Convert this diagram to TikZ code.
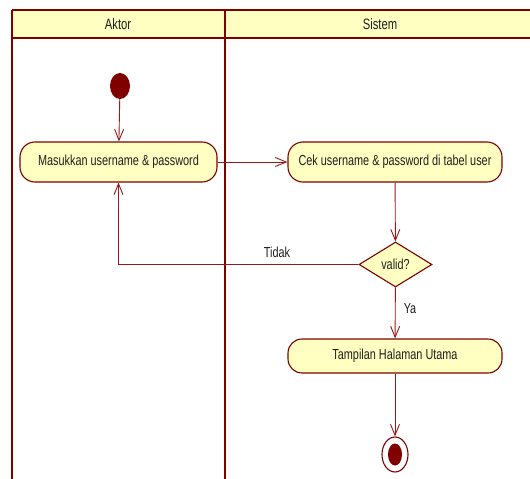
\documentclass[tikz,border=0pt]{standalone}
\usepackage{fontspec}
\setmainfont{Liberation Sans}[FakeStretch=0.75]
\usetikzlibrary{arrows.meta,shapes.geometric}

\definecolor{umlred}{RGB}{128,0,0}
\definecolor{linkred}{RGB}{150,25,25}
\definecolor{umlfill}{RGB}{255,255,194}
\definecolor{umltext}{RGB}{30,30,30}

\tikzset{
  lane/.style={draw=umlred, line width=2.8pt},
  action/.style={draw=umlred, fill=umlfill, line width=1.1pt, rounded corners=15pt,
    inner sep=0pt, text=umltext, font=\fontsize{14.5}{16}\selectfont},
  decision/.style={diamond, draw=umlred, fill=umlfill, line width=1.1pt, inner sep=0pt,
    minimum width=73pt, minimum height=45pt, aspect=1.62, text=umltext,
    font=\fontsize{14.5}{16}\selectfont},
  flow/.style={draw=linkred, line width=0.9pt, -{Straight Barb[length=11pt,width=9pt]}},
  guard/.style={text=umltext, font=\fontsize{14.5}{16}\selectfont, inner sep=0pt},
  lanetitle/.style={text=umltext, font=\fontsize{15}{17}\selectfont, inner sep=0pt}
}

\begin{document}
\begin{tikzpicture}[x=1pt, y=-1pt]
\useasboundingbox (0,0) rectangle (530,479);
\clip (0,0) rectangle (530,479);

% swimlane frame
\fill[umlfill] (12,10) rectangle (540,38);
\draw[lane] (12,10) -- (540,10);
\draw[lane] (12,38) -- (540,38);
\draw[lane] (12,10) -- (12,490);
\draw[lane] (225,10) -- (225,490);
\node[lanetitle] (lane1) at (118,24) {Aktor};
\node[lanetitle] (lane2) at (380,24) {Sistem};

% states
\node[ellipse, fill=umlred, minimum width=20pt, minimum height=26pt, inner sep=0pt] (start) at (120,86) {};
\node[action, minimum width=197pt, minimum height=40pt] (login) at (118.5,162) {Masukkan username \& password};
\node[action, minimum width=214pt, minimum height=40pt] (check) at (395,162) {Cek username \& password di tabel user};
\node[decision] (valid) at (395.5,264.5) {valid?};
\node[action, minimum width=214pt, minimum height=34pt, rounded corners=14pt] (home) at (395,356) {Tampilan Halaman Utama};
\node[ellipse, draw=umlred, fill=white, line width=1.1pt, minimum width=26pt, minimum height=35pt, inner sep=0pt] (stop) at (395,454.5) {};
\node[ellipse, fill=umlred, minimum width=14pt, minimum height=22pt, inner sep=0pt] (stopdot) at (stop) {};

% transitions
\draw[flow] (start) -- (login);
\draw[flow] (login) -- (check);
\draw[flow] (check) -- (valid);
\draw[flow] (valid.west) -| (login.south);
\draw[flow] (valid) -- (home);
\draw[flow] (home) -- (stop);

% guards
\node[guard] (no) at (277,252) {Tidak};
\node[guard] (yes) at (410,309) {Ya};
\end{tikzpicture}
\end{document}
